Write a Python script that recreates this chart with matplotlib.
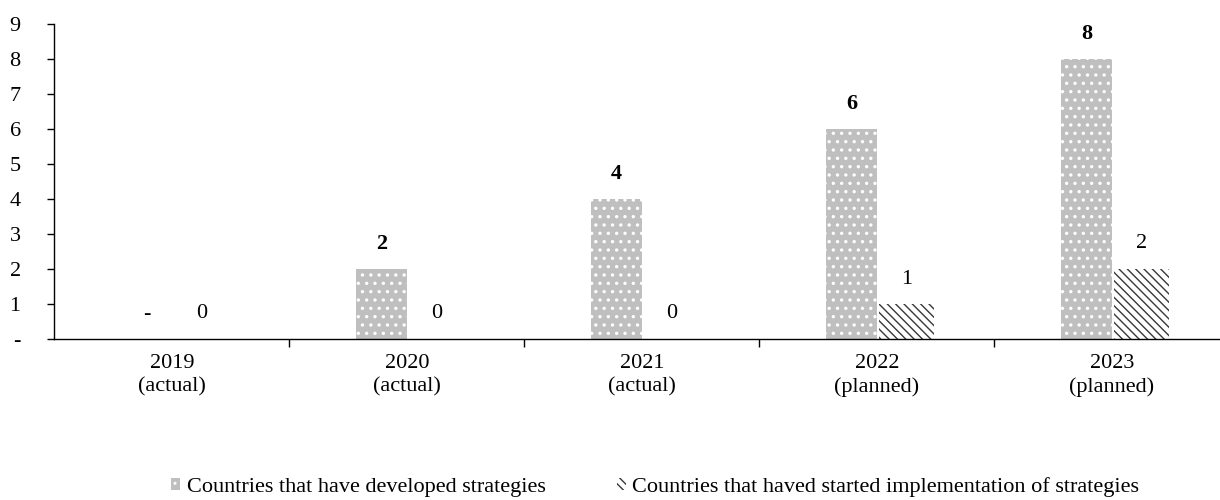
import numpy as np
import matplotlib.pyplot as plt

plt.rcParams['font.family'] = ['Liberation Serif', 'DejaVu Serif']
plt.rcParams['hatch.linewidth'] = 1.0

years = ["2019\n(actual)", "2020\n(actual)", "2021\n(actual)",
         "2022\n(planned)", "2023\n(planned)"]
developed = [0, 2, 4, 6, 8]
implementing = [0, 0, 0, 1, 2]
developed_labels = ["-", "2", "4", "6", "8"]
implementing_labels = ["0", "0", "0", "1", "2"]
y_ticks = [0, 1, 2, 3, 4, 5, 6, 7, 8, 9]
y_tick_labels = ["-", "1", "2", "3", "4", "5", "6", "7", "8", "9"]

FS = 16

fig = plt.figure(figsize=(12.2, 5.0), dpi=100)
ax = fig.add_axes([0.0443, 0.322, 0.9557, 0.63])

x = np.arange(len(years))
# dotted grey bars: a slightly thicker hatch stroke keeps the white dots visible
with plt.rc_context({'hatch.linewidth': 1.2}):
    b1 = ax.bar(x - 0.108, developed, width=0.215, color="#bfbfbf",
                edgecolor="white", linewidth=0, hatch="..",
                label="Countries that have developed strategies")
b2 = ax.bar(x + 0.125, implementing, width=0.235, color="white",
            edgecolor="#383838", linewidth=0, hatch="\\\\\\\\",
            label="Countries that haved started implementation of strategies")

for xi, v, lab in zip(x, developed, developed_labels):
    ax.annotate(lab, (xi - 0.108, v), xytext=(0, 18), textcoords="offset points",
                ha="center", va="center", fontsize=FS, fontweight="bold")
for xi, v, lab in zip(x, implementing, implementing_labels):
    ax.annotate(lab, (xi + 0.125, v), xytext=(0, 18), textcoords="offset points",
                ha="center", va="center", fontsize=FS)

ax.set_xlim(-0.502, 4.46)
ax.set_ylim(0, 9)
ax.set_yticks(y_ticks)
ax.set_yticklabels(y_tick_labels, fontsize=FS)
ax.tick_params(axis="y", length=5, width=1, pad=19)

# category boundaries carry the x ticks, labels sit at the centres
ax.set_xticks(x[:-1] + 0.5)
ax.set_xticklabels([])
ax.set_xticks(x, minor=True)
ax.set_xticklabels(years, minor=True, fontsize=FS, linespacing=1.3)
ax.tick_params(axis="x", which="major", length=6, width=1)
ax.tick_params(axis="x", which="minor", length=0, pad=11)

for side in ("top", "right"):
    ax.spines[side].set_visible(False)
ax.spines["left"].set_linewidth(1)
ax.spines["bottom"].set_linewidth(1)

fig.legend(handles=[b1, b2], loc="center", bbox_to_anchor=(0.537, 0.026),
           ncol=2, frameon=False, fontsize=FS, handlelength=0.4,
           handleheight=0.4, handletextpad=0.3, columnspacing=3.2)

fig.savefig("out.png", dpi=100)
